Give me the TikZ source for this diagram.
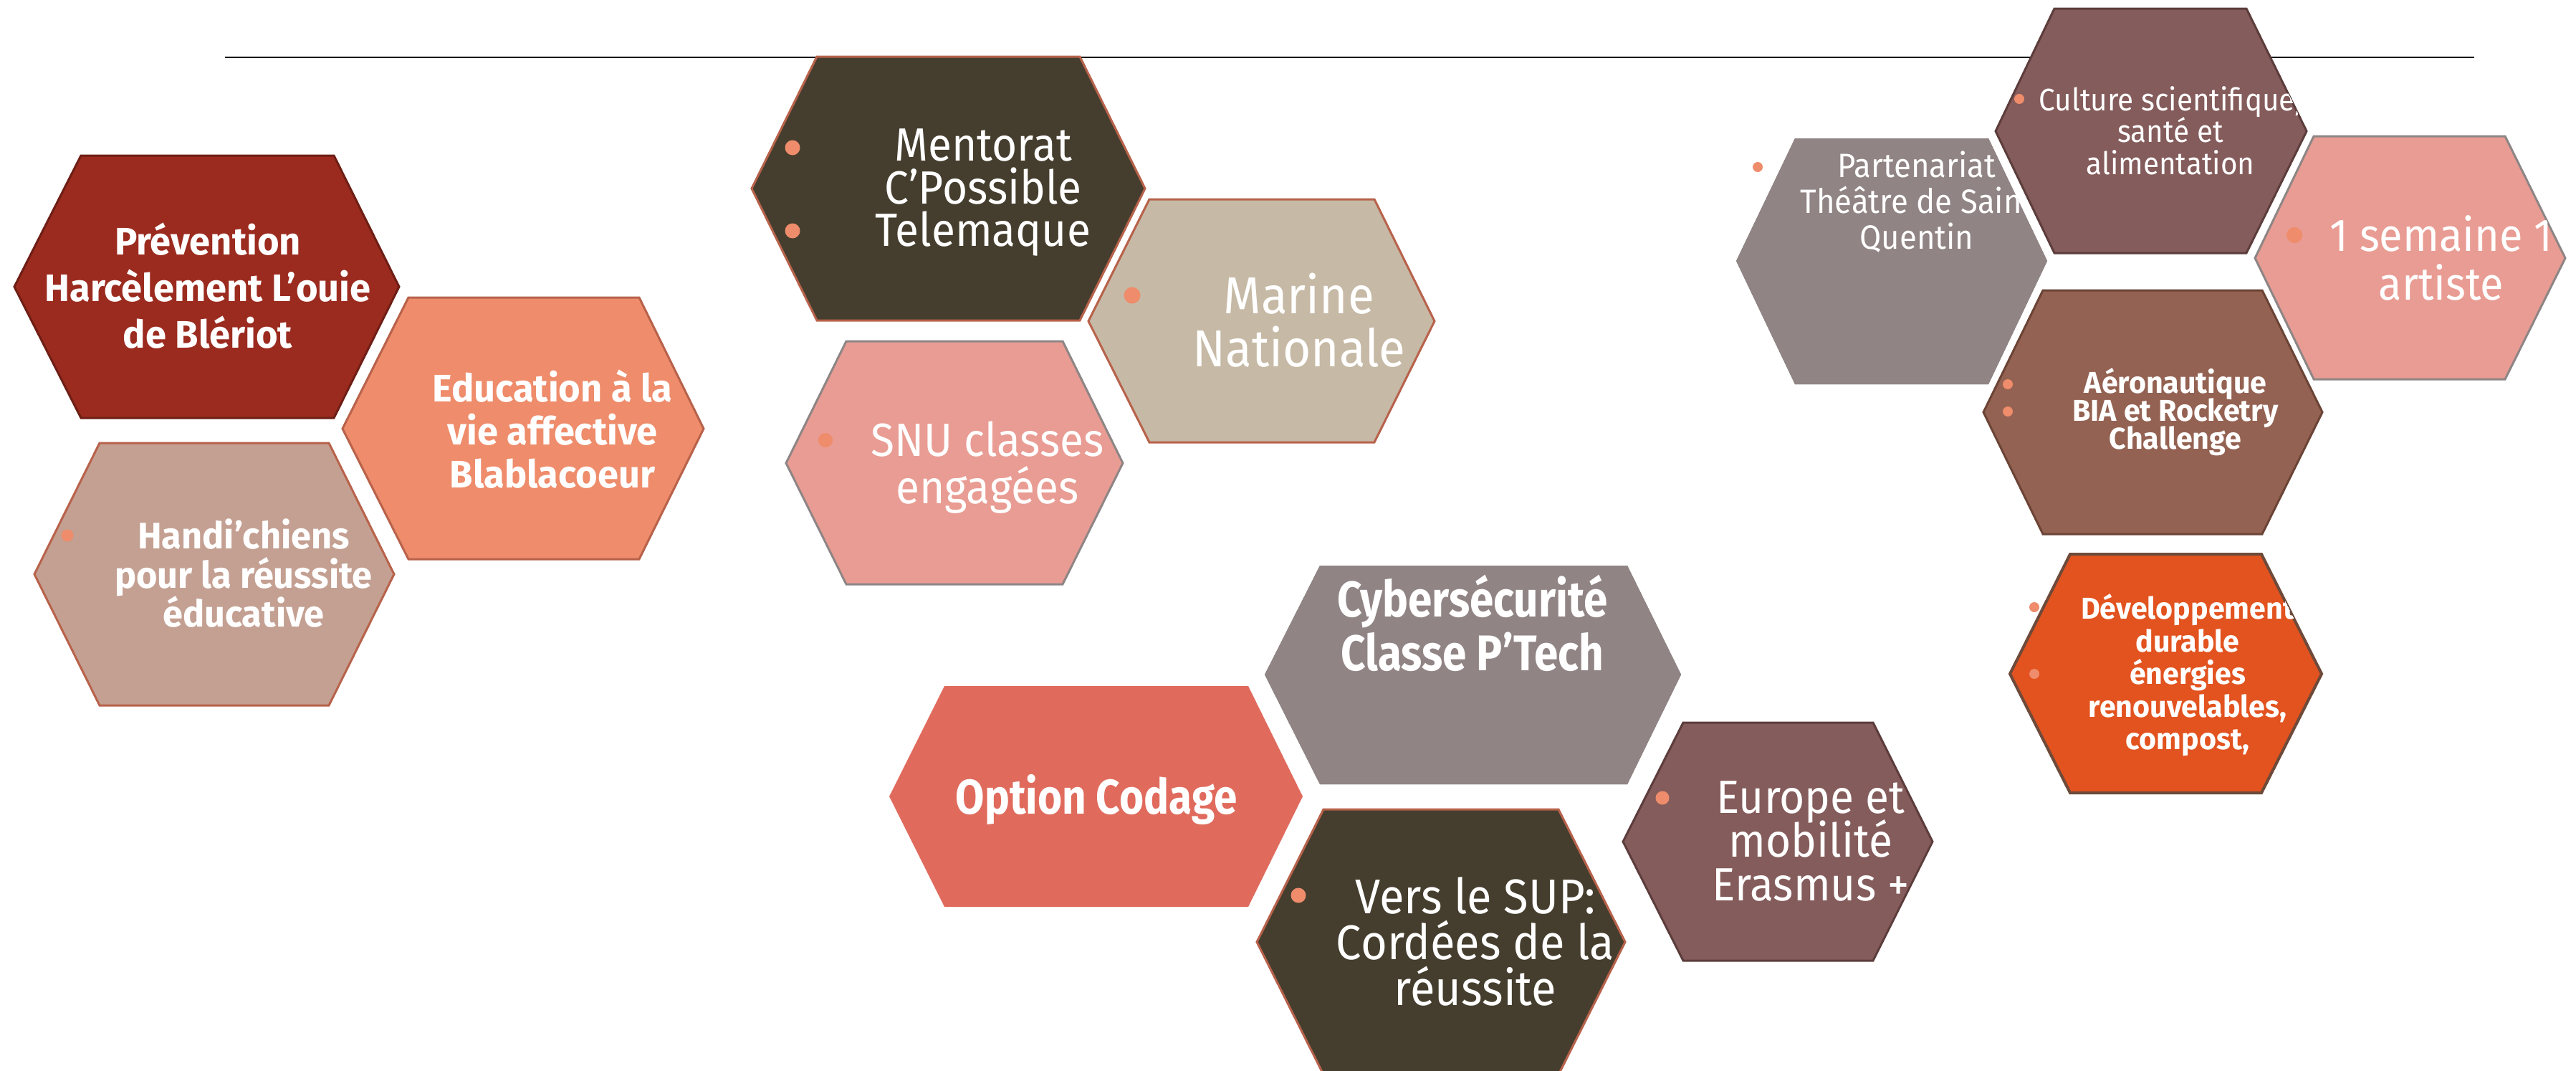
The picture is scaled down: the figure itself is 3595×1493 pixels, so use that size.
\documentclass[tikz,border=0pt]{standalone}
\usepackage{fontspec}
\newfontfamily\hfA[FakeStretch=0.93]{Fira Sans}
\newfontfamily\hfB[FakeStretch=0.98]{Fira Sans}
\newfontfamily\hfC[FakeStretch=0.86]{Fira Sans}
\newcommand\fs[2]{\fontsize{#1}{#2}\selectfont\lineskiplimit=-20pt\relax}
\definecolor{cPrev}{HTML}{9B2B1F}
\definecolor{bPrev}{HTML}{6E1E15}
\definecolor{cEduc}{HTML}{EE8C6B}
\definecolor{bOr}{HTML}{B8624B}
\definecolor{cHandi}{HTML}{C4A092}
\definecolor{cDark}{HTML}{453E2E}
\definecolor{cMarine}{HTML}{C6B9A5}
\definecolor{cPink}{HTML}{E99C93}
\definecolor{bGray}{HTML}{8E8585}
\definecolor{cPlum}{HTML}{845C5B}
\definecolor{bPlum}{HTML}{5C3D3C}
\definecolor{cGray}{HTML}{918484}
\definecolor{sGray}{HTML}{6A6A6A}
\definecolor{cAero}{HTML}{946252}
\definecolor{bAero}{HTML}{6B4436}
\definecolor{cDev}{HTML}{E2531F}
\definecolor{bDev}{HTML}{6E4A3A}
\definecolor{cOpt}{HTML}{E06B5D}
\definecolor{bulc}{HTML}{EE8C6B}
\newcommand\hexat[8]{%
  \coordinate (#1-w) at (#2,#7);
  \coordinate (#1-nw) at (#3,#6);
  \coordinate (#1-ne) at (#4,#6);
  \coordinate (#1-e) at (#5,#7);
  \coordinate (#1-se) at (#4,#8);
  \coordinate (#1-sw) at (#3,#8);
}
\newcommand\hexpath[1]{(#1-w) -- (#1-nw) -- (#1-ne) -- (#1-e) -- (#1-se) -- (#1-sw) -- cycle}
\tikzset{
  hexbox/.style={line width=0.6pt, line join=miter},
  txt/.style={text=white, align=center, inner sep=0pt},
  bul/.style={fill=bulc, draw=none},
}
\begin{document}
\begin{tikzpicture}[x=0.2pt,y=-0.2pt]
\useasboundingbox (0,0) rectangle (3595,1493);
\fill[white] (0,0) rectangle (3595,1493);
% rule
\coordinate (rulel) at (314,80);
\coordinate (ruler) at (3453,80);
\draw[line width=0.5pt, black] (rulel) -- (ruler);

% ---------- Prevention
\hexat{prev}{20}{113}{466}{557}{217}{400}{583}
\path[hexbox, fill=cPrev, draw=bPrev] \hexpath{prev};
\begin{scope}\clip \hexpath{prev};
\node[txt, font={\hfB\bfseries\fs{10.7}{13}}] (tprev) at (290,399) {Prévention\\Harcèlement L’ouie\\de Blériot};
\end{scope}

% ---------- Education
\hexat{educ}{478}{570}{892}{982}{415}{598}{780}
\path[hexbox, fill=cEduc, draw=bOr] \hexpath{educ};
\begin{scope}\clip \hexpath{educ};
\node[txt, font={\hfB\bfseries\fs{10.7}{12}}] (teduc) at (771,599) {Education à la\\vie affective\\Blablacoeur};
\end{scope}

% ---------- Handi'chiens
\hexat{handi}{48}{139}{459}{550}{618}{801}{984}
\path[hexbox, fill=cHandi, draw=bOr] \hexpath{handi};
\begin{scope}\clip \hexpath{handi};
\node[txt, font={\hfB\bfseries\fs{10.3}{10.9}}] (thandi) at (340,800) {Handi’chiens\\pour la réussite\\éducative};
\end{scope}
\fill[bul] (94,747) circle[radius=1.7pt];

% ---------- Mentorat
\hexat{ment}{1049}{1140}{1507}{1598}{79}{263}{447}
\path[hexbox, fill=cDark, draw=bOr] \hexpath{ment};
\begin{scope}\clip \hexpath{ment};
\node[txt, font={\hfA\fs{13}{11.9}}] (tment) at (1372,269) {Mentorat\\C’Possible\\Telemaque};
\end{scope}
\fill[bul] (1106,206) circle[radius=2.1pt];
\fill[bul] (1106,322) circle[radius=2.1pt];

% ---------- Marine
\hexat{marine}{1519}{1604}{1918}{2002}{278}{448}{617}
\path[hexbox, fill=cMarine, draw=bOr] \hexpath{marine};
\begin{scope}\clip \hexpath{marine};
\node[txt, font={\hfA\fs{14.5}{14.8}}] (tmarine) at (1813,447) {Marine\\Nationale};
\end{scope}
\fill[bul] (1580,412) circle[radius=2.3pt];

% ---------- SNU
\hexat{snu}{1097}{1181}{1483}{1567}{476}{646}{815}
\path[hexbox, fill=cPink, draw=bGray] \hexpath{snu};
\begin{scope}\clip \hexpath{snu};
\node[txt, font={\hfA\fs{13}{13.3}}] (tsnu) at (1378,652) {SNU classes\\engagées};
\end{scope}
\fill[bul] (1152,614) circle[radius=2pt];

% ---------- Partenariat
\hexat{part}{2423}{2505}{2775}{2857}{193}{364}{536}
\begin{scope}[xshift=1.2pt, yshift=-0.6pt]
\path[fill=sGray] \hexpath{part};
\end{scope}
\path[fill=cGray] \hexpath{part};
\begin{scope}\clip \hexpath{part};
\node[txt, font={\hfA\fs{9.4}{10}}] (tpart) at (2675,282) {Partenariat\\Théâtre de Saint\\Quentin};
\end{scope}
\fill[bul] (2453,233) circle[radius=1.4pt];

% ---------- Culture
\hexat{cult}{2785}{2867}{3135}{3219}{12}{183}{353}
\path[hexbox, fill=cPlum, draw=bPlum] \hexpath{cult};
\begin{scope}\clip \hexpath{cult};
\node[txt, font={\hfA\fs{8.7}{8.9}}] (tcult) at (3029,182) {Culture scientifique,\\santé et\\alimentation};
\end{scope}
\fill[bul] (2818,138) circle[radius=1.4pt];

% ---------- 1 semaine
\hexat{sem}{3147}{3229}{3496}{3580}{190}{360}{529}
\path[hexbox, fill=cPink, draw=bGray] \hexpath{sem};
\begin{scope}\clip \hexpath{sem};
\node[txt, font={\hfA\fs{12.8}{13.6}}] (tsem) at (3407,360) {1 semaine 1\\artiste};
\end{scope}
\fill[bul] (3202,328) circle[radius=2.2pt];

% ---------- Aeronautique
\hexat{aero}{2768}{2851}{3157}{3241}{405}{575}{745}
\path[hexbox, fill=cAero, draw=bAero] \hexpath{aero};
\begin{scope}\clip \hexpath{aero};
\node[txt, font={\hfB\bfseries\fs{8.4}{7.8}}] (taero) at (3036,575) {Aéronautique\\BIA et Rocketry\\Challenge};
\end{scope}
\fill[bul] (2802,536) circle[radius=1.4pt];
\fill[bul] (2802,574) circle[radius=1.4pt];

% ---------- Developpement
\hexat{dev}{2805}{2889}{3156}{3240}{773}{940}{1106}
\path[line width=0.8pt, fill=cDev, draw=bDev] \hexpath{dev};
\begin{scope}\clip \hexpath{dev};
\node[txt, font={\hfB\bfseries\fs{8.4}{9.1}}] (tdev) at (3053,942) {Développement\\durable\\énergies\\renouvelables,\\compost,};
\end{scope}
\fill[bul] (2839,847) circle[radius=1.4pt];
\fill[bul] (2839,940) circle[radius=1.4pt];

% ---------- Option Codage
\hexat{opt}{1241}{1318}{1742}{1818}{957}{1111}{1265}
\path[fill=cOpt] \hexpath{opt};
\node[txt, font={\hfC\bfseries\fs{13.6}{15}}] (topt) at (1530,1115) {Option Codage};

% ---------- Cybersecurite
\hexat{cyber}{1765}{1842}{2271}{2346}{789}{941}{1094}
\begin{scope}[xshift=1.2pt, yshift=-0.6pt]
\path[fill=sGray] \hexpath{cyber};
\end{scope}
\path[fill=cGray] \hexpath{cyber};
\begin{scope}\clip \hexpath{cyber};
\node[txt, font={\hfC\bfseries\fs{14}{15}}] (tcyber) at (2055,869) {Cybersécurité\\Classe P’Tech};
\end{scope}

% ---------- Vers le SUP
\hexat{sup}{1754}{1847}{2175}{2268}{1129}{1314}{1499}
\path[hexbox, fill=cDark, draw=bOr] \hexpath{sup};
\begin{scope}\clip \hexpath{sup};
\node[txt, font={\hfA\fs{13.6}{12.8}}] (tsup) at (2059,1313) {Vers le SUP:\\Cordées de la\\réussite};
\end{scope}
\fill[bul] (1812,1249) circle[radius=2.1pt];

% ---------- Europe
\hexat{eur}{2265}{2349}{2614}{2697}{1008}{1174}{1340}
\path[hexbox, fill=cPlum, draw=bPlum] \hexpath{eur};
\begin{scope}\clip \hexpath{eur};
\node[txt, font={\hfA\fs{13}{12.2}}] (teur) at (2527,1173) {Europe et\\mobilité\\Erasmus +};
\end{scope}
\fill[bul] (2320,1113) circle[radius=1.9pt];
\end{tikzpicture}
\end{document}
